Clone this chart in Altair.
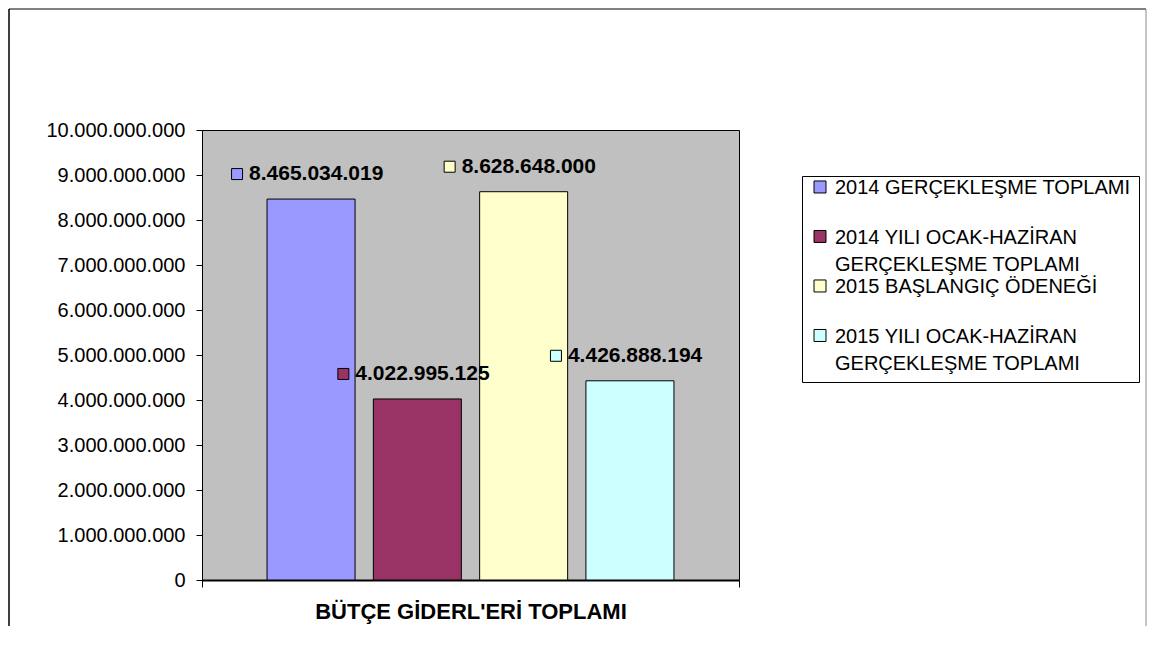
import altair as alt
import pandas as pd

CATEGORY = "BÜTÇE GİDERL'ERİ TOPLAMI"
SERIES = [
    "2014 GERÇEKLEŞME TOPLAMI",
    "2014 YILI OCAK-HAZİRAN GERÇEKLEŞME TOPLAMI",
    "2015 BAŞLANGIÇ ÖDENEĞİ",
    "2015 YILI OCAK-HAZİRAN GERÇEKLEŞME TOPLAMI",
]
VALUES = [8465034019, 4022995125, 8628648000, 4426888194]
COLORS = ["#9999FF", "#993366", "#FFFFCC", "#CCFFFF"]
LEGEND_LINES = [
    ["2014 GERÇEKLEŞME TOPLAMI", ""],
    ["2014 YILI OCAK-HAZİRAN", "GERÇEKLEŞME TOPLAMI"],
    ["2015 BAŞLANGIÇ ÖDENEĞİ", ""],
    ["2015 YILI OCAK-HAZİRAN", "GERÇEKLEŞME TOPLAMI"],
]
Y_TICKS = [i * 1000000000 for i in range(11)]

df = pd.DataFrame({"category": [CATEGORY] * len(SERIES), "series": SERIES, "value": VALUES})

FONT = "Liberation Sans"

# legend label expression (multi-line labels)
def js_arr(lines):
    return "[" + ",".join("'" + l + "'" for l in lines) + "]"

expr = "datum.label"
for s, lines in reversed(list(zip(SERIES, LEGEND_LINES))):
    expr = f"datum.label == '{s}' ? {js_arr(lines)} : ({expr})"

# legend square, shifted up to line up with the first text line
LEG_SQ = "M-1,-2.17L1,-2.17L1,-0.17L-1,-0.17Z"

x_enc = alt.X(
    "category:N",
    scale=alt.Scale(paddingInner=0, paddingOuter=0),
    axis=alt.Axis(
        labels=False, tickBand="extent", ticks=True, tickSize=7, tickColor="black",
        domainColor="black", domainWidth=2, title=CATEGORY, titleFont=FONT,
        titleFontSize=22, titleFontWeight="bold", titleColor="black", titlePadding=14,
    ),
)
xoff_enc = alt.XOffset("series:N", sort=SERIES, scale=alt.Scale(paddingInner=0.172, paddingOuter=0.612))
y_enc = alt.Y(
    "value:Q",
    scale=alt.Scale(domain=[0, 10000000000], nice=False),
    axis=alt.Axis(
        values=Y_TICKS, format=",d", grid=False, title=None, labelFont=FONT,
        labelFontSize=20, labelColor="black", tickSize=6, tickColor="black",
        labelPadding=11, domainColor="black",
    ),
)

bars = alt.Chart(df).mark_bar(stroke="black", strokeWidth=1).encode(
    x=x_enc,
    xOffset=xoff_enc,
    y=y_enc,
    color=alt.Color(
        "series:N", sort=SERIES,
        scale=alt.Scale(domain=SERIES, range=COLORS),
        legend=alt.Legend(
            orient="none", legendX=600, legendY=46, title=None, symbolType=LEG_SQ,
            symbolSize=144, symbolStrokeColor="black", symbolStrokeWidth=1,
            labelFont=FONT, labelFontSize=20, labelColor="black", labelLimit=500,
            labelExpr=expr, labelBaseline="alphabetic", labelOffset=5,
            strokeColor="black", fillColor="white", padding=8, rowPadding=2.5,
        ),
    ),
)

SQ_PATH = "M-7.95,-0.55L-6.85,-0.55L-6.85,0.55L-7.95,0.55Z"
squares = alt.Chart(df).mark_point(
    shape=SQ_PATH, size=400, filled=True, stroke="black", strokeWidth=1, opacity=1, yOffset=-25
).encode(
    x=alt.X("category:N"),
    xOffset=alt.XOffset("series:N", sort=SERIES),
    y=alt.Y("value:Q"),
    fill=alt.Fill("series:N", sort=SERIES, scale=alt.Scale(domain=SERIES, range=COLORS), legend=None),
)

labels = alt.Chart(df).mark_text(
    align="left", baseline="middle", dx=-62, dy=-25, font=FONT, fontSize=21,
    fontWeight="bold", color="black",
).encode(
    x=alt.X("category:N"),
    xOffset=alt.XOffset("series:N", sort=SERIES),
    y=alt.Y("value:Q"),
    text=alt.Text("value:Q", format=",d"),
)

one = alt.Data(values=[{}])
frame_left = alt.Chart(one).mark_rule(color="black", strokeWidth=1.5).encode(
    x=alt.value(-193), y=alt.value(-121), y2=alt.value(496))
frame_top = alt.Chart(one).mark_rule(color="black", strokeWidth=1).encode(
    x=alt.value(-193), x2=alt.value(944), y=alt.value(-121))
frame_right = alt.Chart(one).mark_rule(color="#888888", strokeWidth=1).encode(
    x=alt.value(944), y=alt.value(-121), y2=alt.value(496))

chart = alt.layer(bars, squares, labels, frame_left, frame_top, frame_right).properties(
    width=537, height=450, padding=0, background="white",
).configure(
    locale={"number": {"decimal": ",", "thousands": ".", "grouping": [3], "currency": ["", ""]}},
    style={"guide-label": {"lineHeight": 27}},
).configure_view(
    fill="#C0C0C0", stroke="black", strokeWidth=1,
)

chart.save("out.html", embed_options={"renderer": "svg", "actions": False})
